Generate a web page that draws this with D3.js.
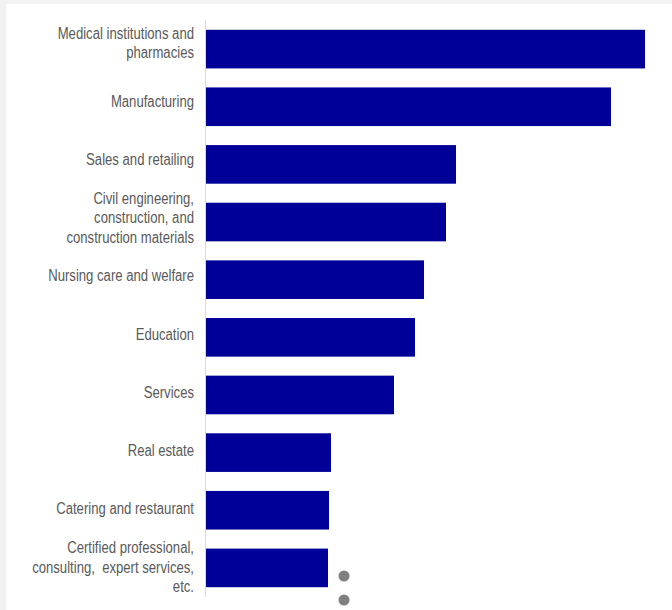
<!DOCTYPE html>
<html>
<head>
<meta charset="utf-8">
<script src="https://cdn.jsdelivr.net/npm/d3@7"></script>
<style>
  html, body { margin: 0; padding: 0; background: #f2f2f2; }
  svg { display: block; }
</style>
</head>
<body>
<svg id="chart" width="672" height="610"></svg>
<script>
// Industries, top to bottom
const categories = [
  "Medical institutions and pharmacies",
  "Manufacturing",
  "Sales and retailing",
  "Civil engineering, construction, and construction materials",
  "Nursing care and welfare",
  "Education",
  "Services",
  "Real estate",
  "Catering and restaurant",
  "Certified professional, consulting, expert services, etc."
];
// How each label is broken into lines
const labelLines = [
  ["Medical institutions and", "pharmacies"],
  ["Manufacturing"],
  ["Sales and retailing"],
  ["Civil engineering,", "construction, and", "construction materials"],
  ["Nursing care and welfare"],
  ["Education"],
  ["Services"],
  ["Real estate"],
  ["Catering and restaurant"],
  ["Certified professional,", "consulting,  expert services,", "etc."]
];
const values = [21.95, 20.25, 12.5, 12.0, 10.9, 10.45, 9.4, 6.25, 6.15, 6.1];
const valueMax = 22;

const svg = d3.select("#chart");
const W = 672, H = 610;

// white plot panel on the grey page
svg.append("rect").attr("x", 6).attr("y", 4).attr("width", W - 6).attr("height", H - 4).attr("fill", "#ffffff");

const axisX = 206, plotTop = 20, plotBottom = 597;

const y = d3.scaleBand()
  .domain(categories)
  .range([plotTop, plotBottom])
  .paddingInner(0.33)
  .paddingOuter(0.17);

// label centres run on a slightly wider pitch than the bars
const yLabel = d3.scalePoint()
  .domain(categories)
  .range([43, 567]);

const x = d3.scaleLinear()
  .domain([0, valueMax])
  .range([axisX, axisX + 440]);

// bars
svg.append("g").selectAll("rect")
  .data(categories)
  .join("rect")
  .attr("x", x(0))
  .attr("y", d => y(d))
  .attr("width", (d, i) => x(values[i]) - x(0))
  .attr("height", y.bandwidth())
  .attr("fill", "#000099");

// category axis line
svg.append("line")
  .attr("x1", axisX - 0.5).attr("x2", axisX - 0.5)
  .attr("y1", plotTop).attr("y2", plotBottom)
  .attr("stroke", "#d9d9d9").attr("stroke-width", 1);

// category labels, condensed horizontally
const lineH = 19.5;
const labels = svg.append("g")
  .attr("font-family", "'Liberation Sans Narrow', 'Arial Narrow', 'Liberation Sans', Arial, sans-serif")
  .attr("font-size", 16)
  .attr("fill", "#595959")
  .attr("text-anchor", "end");

categories.forEach((c, i) => {
  const lines = labelLines[i];
  const cy = yLabel(c);
  const g = labels.append("g")
    .attr("transform", `translate(${axisX - 12},${cy}) scale(0.82,1)`);
  const t = g.append("text")
    .attr("x", 0)
    .attr("y", -(lines.length - 1) * lineH / 2);
  lines.forEach((ln, k) => {
    t.append("tspan")
      .attr("x", 0)
      .attr("dy", k === 0 ? "0.35em" : lineH)
      .attr("xml:space", "preserve")
      .text(ln);
  });
});

// page indicator dots below the chart
const dots = [0, 1];
svg.append("g").selectAll("circle")
  .data(dots)
  .join("circle")
  .attr("cx", x(0) + 138)
  .attr("cy", d => plotBottom - 21 + d * 24)
  .attr("r", 5.5)
  .attr("fill", "#808080");
</script>
</body>
</html>
